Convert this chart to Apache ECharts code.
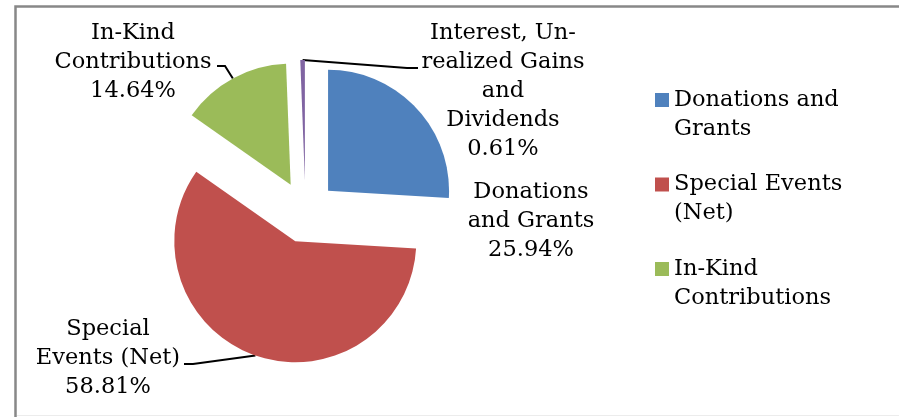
<!DOCTYPE html>
<html>
<head>
<meta charset="utf-8">
<script src="https://cdn.jsdelivr.net/npm/echarts@6/dist/echarts.min.js"></script>
<style>
  html, body { margin: 0; padding: 0; background: #fff; }
  #chart { width: 899px; height: 417px; }
</style>
</head>
<body>
<div id="chart"></div>
<script>
// ---- data ----
const categories = ['Donations and Grants', 'Special Events (Net)', 'In-Kind Contributions', 'Interest, Un-realized Gains and Dividends'];
const percents = [25.94, 58.81, 14.64, 0.61];
const sliceLabels = ['Donations\nand Grants', 'Special\nEvents (Net)', 'In-Kind\nContributions', 'Interest, Un-\nrealized Gains\nand\nDividends'];
const legendNames = ['Donations and Grants', 'Special Events (Net)', 'In-Kind Contributions'];
const legendLabels = ['Donations and\nGrants', 'Special Events\n(Net)', 'In-Kind\nContributions'];

// ---- styles / layout ----
const colors = ['#4F81BD', '#C0504D', '#9BBB59', '#8064A2'];
const FONT = '"DejaVu Serif", Georgia, serif';
const CENTER = [305.5, 212];
const RADIUS = 121;
const EXPLODE = 31;
const labelPos = [[531, 221], [108, 358], [133, 62], [503, 91]];
// leader line knee and end points (layout), start point is computed on the slice edge
const leaderKnee = [null, [193, 364], [225, 66], [407, 68]];
const leaderEnd = [null, [184, 364], [217, 66], [418, 68]];

const total = percents.reduce((a, b) => a + b, 0);

const series = [];
let cum = 0;
percents.forEach((v, i) => {
  const mid = (cum + v / 2) / total * 2 * Math.PI;
  cum += v;
  const cx = CENTER[0] + EXPLODE * Math.sin(mid);
  const cy = CENTER[1] - EXPLODE * Math.cos(mid);
  const edge = [cx + RADIUS * Math.sin(mid), cy - RADIUS * Math.cos(mid)];
  series.push({
    type: 'pie',
    name: 'slice' + i,
    center: [cx, cy],
    radius: RADIUS,
    startAngle: 90,
    clockwise: true,
    avoidLabelOverlap: false,
    silent: true,
    emphasis: { disabled: true },
    itemStyle: { borderWidth: 0 },
    label: {
      show: true,
      position: 'outside',
      fontFamily: FONT,
      fontSize: 22.5,
      lineHeight: 29,
      color: '#000',
      align: 'center',
      formatter: function (p) {
        return sliceLabels[p.dataIndex] + '\n' + percents[p.dataIndex].toFixed(2) + '%';
      }
    },
    labelLine: {
      show: true,
      length: 10,
      length2: 10,
      lineStyle: { color: '#000', width: 2 }
    },
    labelLayout: function (params) {
      if (params.dataIndex !== i) return {};
      const p = labelPos[i];
      const out = { x: p[0], y: p[1], align: 'center', verticalAlign: 'middle' };
      if (leaderKnee[i]) out.labelLinePoints = [edge, leaderKnee[i], leaderEnd[i]];
      return out;
    },
    data: categories.map((name, j) => ({
      name: name,
      value: percents[j],
      itemStyle: { color: j === i ? colors[j] : 'rgba(0,0,0,0)' },
      label: { show: j === i },
      labelLine: { show: j === i && j !== 0 }
    }))
  });
});

const chart = echarts.init(document.getElementById('chart'), null, { renderer: 'canvas' });
chart.setOption({
  animation: false,
  backgroundColor: '#ffffff',
  graphic: [{
    type: 'rect',
    shape: { x: 15.5, y: 6.5, width: 900, height: 420 },
    style: { fill: 'none', stroke: '#888888', lineWidth: 2.5 },
    silent: true
  }, {
    type: 'line',
    shape: { x1: 17, y1: 415.5, x2: 899, y2: 415.5 },
    style: { stroke: '#ececec', lineWidth: 1 },
    silent: true
  }],
  legend: {
    data: legendNames.map((n, i) => ({ name: n, itemStyle: { color: colors[i] } })),
    orient: 'vertical',
    left: 655,
    top: 56.5,
    padding: 0,
    itemWidth: 14,
    itemHeight: 14,
    itemGap: -2.5,
    icon: 'rect',
    selectedMode: false,
    formatter: function (name) { return '\n' + legendLabels[legendNames.indexOf(name)]; },
    textStyle: {
      fontFamily: FONT,
      fontSize: 22.5,
      color: '#000',
      lineHeight: 29
    }
  },
  series: series
});
</script>
</body>
</html>
